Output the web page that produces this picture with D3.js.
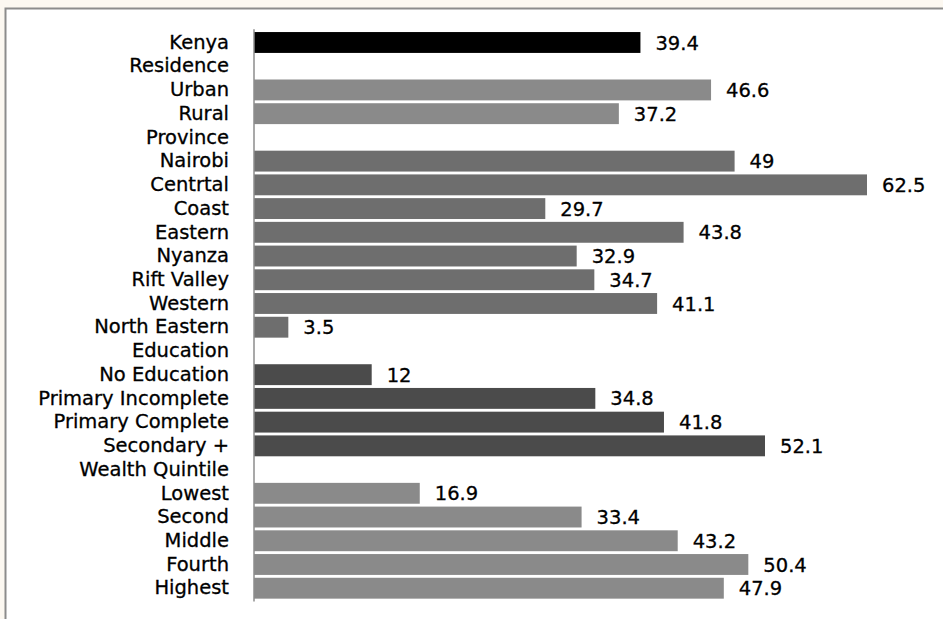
<!DOCTYPE html>
<html><head><meta charset="utf-8">
<script src="https://cdn.jsdelivr.net/npm/d3@7"></script>
<style>
html,body{margin:0;padding:0;background:#fcf8f1;}
svg{display:block;}
</style></head>
<body>
<svg id="chart" width="943" height="619"></svg>
<script>
const categories = ["Kenya","Residence","Urban","Rural","Province","Nairobi","Centrtal","Coast","Eastern","Nyanza","Rift Valley","Western","North Eastern","Education","No Education","Primary Incomplete","Primary Complete","Secondary +","Wealth Quintile","Lowest","Second ","Middle","Fourth","Highest"];
const values = [39.4,null,46.6,37.2,null,49,62.5,29.7,43.8,32.9,34.7,41.1,3.5,null,12,34.8,41.8,52.1,null,16.9,33.4,43.2,50.4,47.9];
const groups = ["total","head","residence","residence","head","province","province","province","province","province","province","province","province","head","education","education","education","education","head","wealth","wealth","wealth","wealth","wealth"];
const groupColors = {total:"#000000",residence:"#8a8a8a",province:"#6e6e6e",education:"#4b4b4b",wealth:"#8a8a8a",head:"none"};

const data = categories.map((c,i)=>({cat:c, val:values[i], grp:groups[i], idx:i}));
const svg = d3.select("#chart");
svg.append("rect").attr("x",5.5).attr("y",8.5).attr("width",960).attr("height",700)
  .attr("fill","#ffffff").attr("stroke","#8c8c8c").attr("stroke-width",2);

const x = d3.scaleLinear().domain([0,62.5]).range([254,867]);
const y = d3.scaleBand().domain(d3.range(categories.length)).range([29.2,601.5]).paddingInner(0.12).paddingOuter(0.12);

const g = svg.append("g");
g.selectAll("rect.bar").data(data.filter(d=>d.val!=null)).join("rect")
  .attr("class","bar")
  .attr("x",x(0)).attr("y",d=>y(d.idx))
  .attr("width",d=>x(d.val)-x(0)).attr("height",y.bandwidth())
  .attr("fill",d=>groupColors[d.grp]);

g.selectAll("text.val").data(data.filter(d=>d.val!=null)).join("text")
  .attr("class","val")
  .attr("x",d=>x(d.val)+15).attr("y",d=>y(d.idx)+y.bandwidth()/2)
  .attr("dy","0.36em")
  .attr("font-family","DejaVu Sans").attr("font-size",19.5).attr("fill","#000")
  .attr("stroke","#000").attr("stroke-width",0.3)
  .text(d=>d.val);

const yAxis = d3.axisLeft(y).tickSize(0).tickPadding(25).tickFormat(i=>categories[i]);
const ax = svg.append("g").attr("transform",`translate(${x(0)},0)`).call(yAxis);
ax.select(".domain").attr("stroke","#8c8c8c").attr("stroke-width",1.5).attr("d",`M0,${y.range()[0]}V${y.range()[1]}`);
ax.selectAll("text").attr("font-family","DejaVu Sans").attr("font-size",19.5).attr("fill","#000")
  .attr("stroke","#000").attr("stroke-width",0.3);
</script>
</body></html>
